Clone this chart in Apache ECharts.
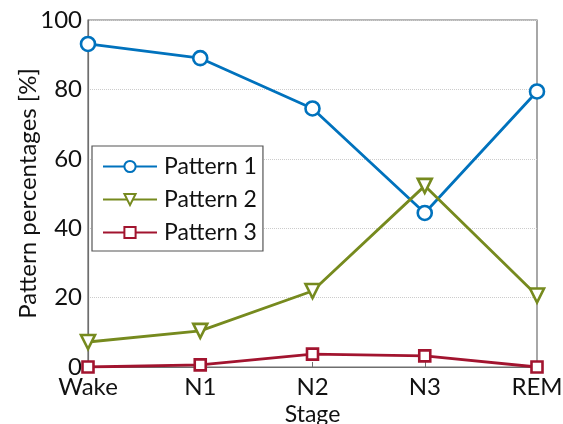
<!DOCTYPE html>
<html><head><meta charset="utf-8">
<script src="https://cdn.jsdelivr.net/npm/echarts@6/dist/echarts.min.js"></script>
<style>html,body{margin:0;padding:0;background:#fff}#c{width:563px;height:424px}</style>
</head><body><div id="c"></div>
<script>
const categories = ['Wake', 'N1', 'N2', 'N3', 'REM'];
const pattern1 = [93.1, 89.0, 74.5, 44.4, 79.4];
const pattern2 = [7.2, 10.4, 21.9, 52.2, 20.6];
const pattern3 = [0.0, 0.6, 3.7, 3.2, 0.0];
const yTicks = [0, 20, 40, 60, 80, 100];
const seriesNames = ['Pattern 1', 'Pattern 2', 'Pattern 3'];
const colors = ['#0072BD', '#768A1E', '#A2142F'];

const font = 'Lato, "Open Sans", sans-serif';
const chart = echarts.init(document.getElementById('c'), null, {renderer: 'canvas'});
function mk(name, data, color, symbol, size, rot) {
  return {
    name, type: 'line', data, symbol, symbolSize: size, symbolRotate: rot || 0,
    showAllSymbol: true,
    lineStyle: {color, width: 2.8},
    itemStyle: {color: '#fff', borderColor: color, borderWidth: 2.6},
    emphasis: {disabled: true}, z: 3
  };
}
chart.setOption({
  animation: false,
  grid: {left: 88, right: 26, top: 20, bottom: 57, show: true, borderColor: '#6e6e6e', borderWidth: 1.2,
    containLabel: false, outerBoundsMode: 'none'},
  legend: {
    left: 92, top: 146, orient: 'vertical',
    data: seriesNames,
    itemWidth: 54, itemHeight: 14, itemGap: 10,
    padding: [9, 6, 7, 10],
    borderColor: '#555', borderWidth: 1.2, backgroundColor: '#fff',
    textStyle: {fontFamily: font, fontSize: 23, color: '#111', padding: [0, 0, 0, 2]}
  },
  xAxis: {
    type: 'category', data: categories, boundaryGap: false,
    name: 'Stage', nameLocation: 'middle', nameGap: 36, nameMoveOverlap: false,
    nameTextStyle: {fontFamily: font, fontSize: 23, color: '#111'},
    axisLine: {show: true, lineStyle: {color: '#6e6e6e', width: 1.2}},
    axisTick: {show: true, inside: true, length: 5, lineStyle: {color: '#6e6e6e'}},
    axisLabel: {fontFamily: font, fontSize: 24, color: '#111', margin: 8},
    splitLine: {show: false}
  },
  yAxis: {
    type: 'value', min: 0, max: 100, interval: 20,
    name: 'Pattern percentages [%]', nameLocation: 'middle', nameGap: 48, nameMoveOverlap: false,
    nameTextStyle: {fontFamily: font, fontSize: 24, color: '#111'},
    axisLine: {show: true, lineStyle: {color: '#6e6e6e', width: 1.2}},
    axisTick: {show: false},
    axisLabel: {fontFamily: font, fontSize: 24, color: '#111', margin: 6,
      formatter: v => yTicks.includes(v) ? String(v) : ''},
    splitLine: {show: true, lineStyle: {color: '#ccc', type: 'dotted', width: 1}}
  },
  series: [
    mk(seriesNames[0], pattern1, colors[0], 'circle', 14),
    mk(seriesNames[1], pattern2, colors[1], 'triangle', 14, 180),
    mk(seriesNames[2], pattern3, colors[2], 'rect', 11)
  ]
});
</script></body></html>
